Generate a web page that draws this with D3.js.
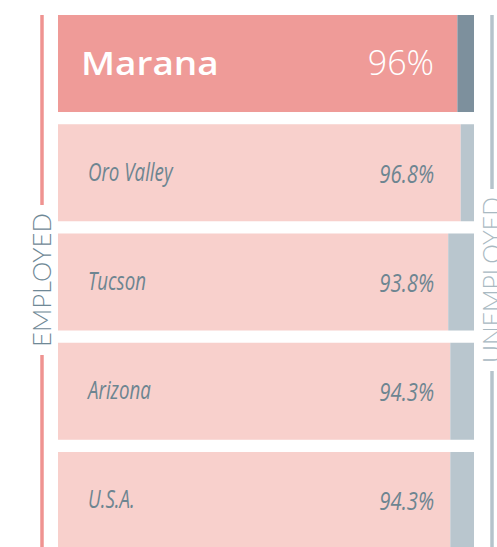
<!DOCTYPE html>
<html>
<head>
<meta charset="utf-8">
<script src="https://cdn.jsdelivr.net/npm/d3@7"></script>
<style>
  html, body { margin: 0; padding: 0; background: #ffffff; }
  svg { display: block; }
</style>
</head>
<body>
<svg id="chart" width="497" height="547"></svg>
<script>
// Employment rate by place (share of labour force, %)
const categories = ["Marana", "Oro Valley", "Tucson", "Arizona", "U.S.A."];
const employed = [96, 96.8, 93.8, 94.3, 94.3];
const unemployed = [4, 3.2, 6.2, 5.7, 5.7];
const valueLabels = ["96%", "96.8%", "93.8%", "94.3%", "94.3%"];
const highlight = "Marana";

const W = 497, H = 547;
const svg = d3.select("#chart");

const x = d3.scaleLinear().domain([0, 100]).range([58, 474]);
const y = d3.scaleBand().domain(categories).range([15, 549]).paddingInner(0.112).paddingOuter(0);

const colors = {
  empHi: "#ef9b98", empLo: "#f8d0cc",
  unHi: "#7d909d", unLo: "#b9c6ce",
  text: "#6d8591", sideEmp: "#ef9391", sideUn: "#b5c3cb",
  labelEmp: "#6f8896", labelUn: "#a9b9c2"
};

const rows = categories.map((c, i) => ({
  name: c, emp: employed[i], un: unemployed[i], label: valueLabels[i], hi: c === highlight
}));

const g = svg.append("g");

// employed segment
g.selectAll("rect.emp").data(rows).join("rect")
  .attr("class", "emp")
  .attr("x", x(0))
  .attr("y", d => y(d.name))
  .attr("width", d => x(d.emp) - x(0))
  .attr("height", y.bandwidth())
  .attr("fill", d => d.hi ? colors.empHi : colors.empLo);

// unemployed segment stacked after it
g.selectAll("rect.un").data(rows).join("rect")
  .attr("class", "un")
  .attr("x", d => x(d.emp))
  .attr("y", d => y(d.name))
  .attr("width", d => x(d.emp + d.un) - x(d.emp))
  .attr("height", y.bandwidth())
  .attr("fill", d => d.hi ? colors.unHi : colors.unLo);

// place names
rows.forEach(d => {
  const cy = y(d.name) + y.bandwidth() / 2;
  if (d.hi) {
    g.append("text")
      .attr("transform", `translate(81,${cy + 11.5}) scale(1.12,1)`)
      .attr("font-family", "'Open Sans', sans-serif")
      .attr("font-weight", 600)
      .attr("font-size", 33)
      .attr("fill", "#ffffff")
      .text(d.name);
    g.append("text")
      .attr("x", 434).attr("y", cy + 11.5)
      .attr("text-anchor", "end")
      .attr("font-family", "'Open Sans', sans-serif")
      .attr("font-weight", 300)
      .attr("font-size", 34)
      .attr("fill", "#ffffff")
      .text(d.label);
  } else {
    g.append("text")
      .attr("transform", `translate(88,${cy + 8}) scale(0.72,1)`)
      .attr("font-family", "'Open Sans', sans-serif")
      .attr("font-style", "italic")
      .attr("font-size", 26)
      .attr("fill", colors.text)
      .text(d.name);
    g.append("text")
      .attr("transform", `translate(434,${cy + 10}) scale(0.78,1)`)
      .attr("text-anchor", "end")
      .attr("font-family", "'Open Sans', sans-serif")
      .attr("font-style", "italic")
      .attr("font-size", 26)
      .attr("fill", colors.text)
      .text(d.label);
  }
});

// side brackets with rotated captions
function sideLabel(cx, text, len, lineColor, textColor) {
  const mid = 280, fs = 26, pad = 8;
  const t = svg.append("text")
    .attr("transform", `translate(${cx},${mid}) rotate(-90)`)
    .attr("text-anchor", "middle")
    .attr("dy", fs * 0.36)
    .attr("font-family", "Lato, sans-serif")
    .attr("font-weight", 300)
    .attr("font-size", fs)
    .attr("textLength", len)
    .attr("lengthAdjust", "spacingAndGlyphs")
    .attr("fill", textColor)
    .text(text);
  const top = mid - len / 2 - pad, bottom = mid + len / 2 + pad;
  svg.append("line").attr("x1", cx).attr("x2", cx).attr("y1", 15).attr("y2", top)
    .attr("stroke", lineColor).attr("stroke-width", 3.5);
  svg.append("line").attr("x1", cx).attr("x2", cx).attr("y1", bottom).attr("y2", H)
    .attr("stroke", lineColor).attr("stroke-width", 3.5);
}
sideLabel(42, "EMPLOYED", 134, colors.sideEmp, colors.labelEmp);
sideLabel(492, "UNEMPLOYED", 166, colors.sideUn, colors.labelUn);
</script>
</body>
</html>
